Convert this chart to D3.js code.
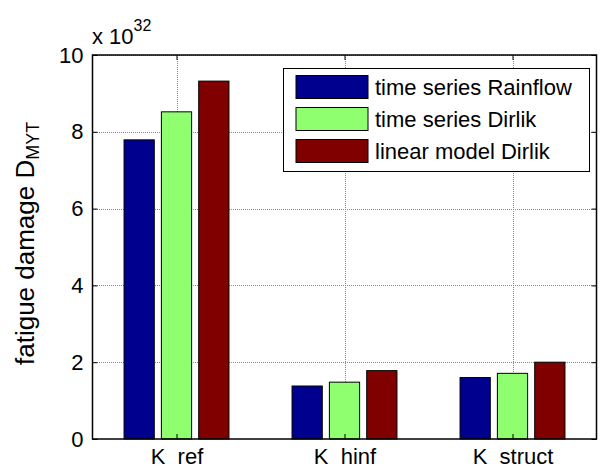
<!DOCTYPE html>
<html>
<head>
<meta charset="utf-8">
<script src="https://cdn.jsdelivr.net/npm/d3@7"></script>
<style>
  html, body { margin: 0; padding: 0; background: #fff; }
  svg { display: block; font-family: "Liberation Sans", Arial, sans-serif; }
  .tick text { white-space: pre; }
</style>
</head>
<body>
<svg id="chart" width="604" height="470"></svg>
<script>
// Controller variants on the category axis
const categories = ["K  ref", "K  hinf", "K  struct"];

// Fatigue damage per method, in units of 1e32
const seriesNames = ["time series Rainflow", "time series Dirlik", "linear model Dirlik"];
const rainflowTS = [7.79, 1.38, 1.60];
const dirlikTS   = [8.52, 1.48, 1.71];
const dirlikLin  = [9.32, 1.78, 2.00];

const yTicks = [0, 2, 4, 6, 8, 10];
const colors = ["#00008f", "#8fff70", "#800000"];

const series = [rainflowTS, dirlikTS, dirlikLin];

const svg = d3.select("#chart");
const plotL = 92.5, plotR = 596.5, plotT = 55, plotB = 439;

const x = d3.scaleLinear().domain([0.5, categories.length + 0.5]).range([plotL, plotR]);
const y = d3.scaleLinear().domain([0, 10]).range([plotB, plotT]);

// grouped bar geometry (MATLAB-like)
const groupW = Math.min(0.8, series.length / (series.length + 1.5));
const step = groupW / series.length;
const barW = step * 0.81;

// dotted grid
const grid = svg.append("g").attr("stroke", "#8a8a8a").attr("stroke-width", 1)
  .attr("stroke-dasharray", "1,1").attr("shape-rendering", "crispEdges");
grid.selectAll("line.h").data(yTicks.slice(1)).join("line")
  .attr("x1", plotL).attr("x2", plotR)
  .attr("y1", d => Math.round(y(d)) + 0.5).attr("y2", d => Math.round(y(d)) + 0.5);
grid.selectAll("line.v").data(categories.map((c, i) => i + 1)).join("line")
  .attr("x1", d => Math.round(x(d)) + 0.5).attr("x2", d => Math.round(x(d)) + 0.5)
  .attr("y1", plotT).attr("y2", plotB);

// bars
series.forEach((vals, s) => {
  const off = (s - (series.length - 1) / 2) * step;
  svg.append("g").selectAll("rect").data(vals).join("rect")
    .attr("x", (d, i) => x(i + 1 + off - barW / 2))
    .attr("width", x(barW) - x(0))
    .attr("y", d => y(d))
    .attr("height", d => y(0) - y(d))
    .attr("fill", colors[s])
    .attr("stroke", "#000").attr("stroke-width", 1);
});

// axes box
svg.append("rect").attr("x", plotL).attr("y", plotT)
  .attr("width", plotR - plotL).attr("height", plotB - plotT)
  .attr("fill", "none").attr("stroke", "#000").attr("stroke-width", 1.5);

// y axis labels and inward ticks
const yAxis = d3.axisLeft(y).tickValues(yTicks).tickSize(-5).tickPadding(10).tickFormat(d3.format("d"));
const gy = svg.append("g").attr("transform", `translate(${plotL},0)`).call(yAxis);
gy.select(".domain").remove();
gy.selectAll("line").attr("stroke", "#000");
gy.selectAll("text").attr("font-size", 22).attr("fill", "#000").attr("x", -9);

const yAxisR = d3.axisRight(y).tickValues(yTicks).tickSize(-5).tickFormat("");
const gyr = svg.append("g").attr("transform", `translate(${plotR},0)`).call(yAxisR);
gyr.select(".domain").remove();
gyr.selectAll("line").attr("stroke", "#000");

// x axis labels
const xAxis = d3.axisBottom(x).tickValues(categories.map((c, i) => i + 1))
  .tickSize(-5).tickPadding(16).tickFormat((d, i) => categories[i]);
const gx = svg.append("g").attr("transform", `translate(0,${plotB})`).call(xAxis);
gx.select(".domain").remove();
gx.selectAll("line").attr("stroke", "#000");
gx.selectAll("text").attr("font-size", 22).attr("fill", "#000")
  .attr("dy", null).attr("y", 25);

const xAxisT = d3.axisTop(x).tickValues(categories.map((c, i) => i + 1)).tickSize(-5).tickFormat("");
const gxt = svg.append("g").attr("transform", `translate(0,${plotT})`).call(xAxisT);
gxt.select(".domain").remove();
gxt.selectAll("line").attr("stroke", "#000");

// exponent marker
const expo = svg.append("text").attr("x", 92).attr("y", 44).attr("font-size", 22).attr("fill", "#000");
expo.append("tspan").text("x 10");
expo.append("tspan").attr("font-size", 16).attr("dy", -13).text("32");

// y label with subscript
const yl = svg.append("text")
  .attr("transform", `translate(34,365) rotate(-90)`)
  .attr("text-anchor", "start").attr("font-size", 26).attr("fill", "#000");
yl.append("tspan").text("fatigue damage D");
yl.append("tspan").attr("font-size", 18).attr("dy", 5).text("MYT");

// legend
const lg = svg.append("g");
lg.append("rect").attr("x", 283.5).attr("y", 68.5).attr("width", 306).attr("height", 103)
  .attr("fill", "#fff").attr("stroke", "#000").attr("stroke-width", 1);
seriesNames.forEach((name, i) => {
  const cy = 87 + i * 32;
  lg.append("rect").attr("x", 296).attr("y", cy - 11.5).attr("width", 72).attr("height", 23)
    .attr("fill", colors[i]).attr("stroke", "#000").attr("stroke-width", 1);
  lg.append("text").attr("x", 375).attr("y", cy + 8).attr("font-size", 22).attr("fill", "#000").text(name);
});
</script>
</body>
</html>
